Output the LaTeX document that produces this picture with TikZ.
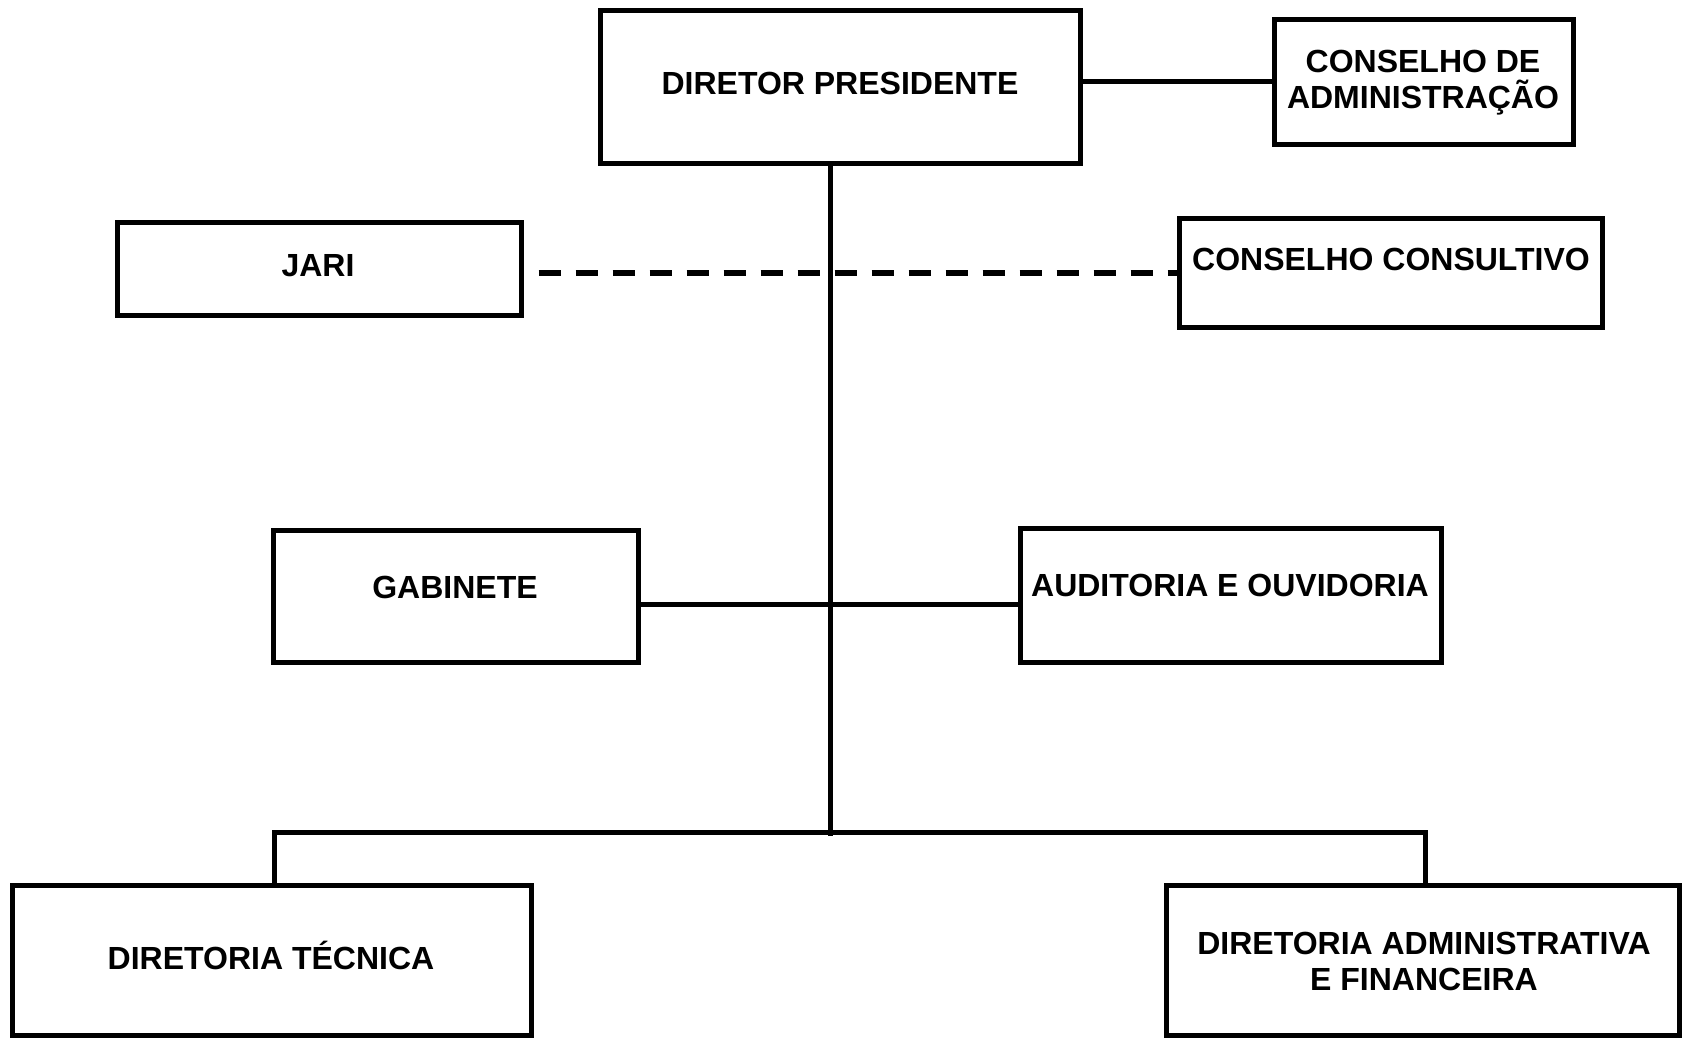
\documentclass[tikz,border=0pt]{standalone}
\usepackage{fontspec}
\setmainfont{Liberation Sans}
\usetikzlibrary{calc}
\begin{document}
\begin{tikzpicture}[x=1pt,y=-1pt,
  box/.style={draw=black, line width=5pt, fill=white, inner sep=0pt},
  lbl/.style={font=\fontsize{32}{36}\selectfont\bfseries, inner sep=0pt, anchor=base, align=center},
  conn/.style={draw=black, line width=5pt},
  dashconn/.style={draw=black, line width=6pt, dash pattern=on 22pt off 15pt, dash phase=22pt}]
\useasboundingbox (0,0) rectangle (1682,1037);
\fill[white] (0,0) rectangle (1682,1037);
% boxes
\node[box, minimum width=480pt, minimum height=153pt] (dp) at (840,86.5) {};
\node[box, minimum width=299pt, minimum height=125pt] (ca) at (1423.5,81.5) {};
\node[box, minimum width=404pt, minimum height=93pt] (jari) at (319,268.5) {};
\node[box, minimum width=423pt, minimum height=109pt] (cc) at (1390.5,272.5) {};
\node[box, minimum width=365pt, minimum height=132pt] (gab) at (455.5,596) {};
\node[box, minimum width=421pt, minimum height=134pt] (aud) at (1230.5,595) {};
\node[box, minimum width=519pt, minimum height=150pt] (dt) at (271.5,960) {};
\node[box, minimum width=513pt, minimum height=150pt] (daf) at (1422.5,960) {};
% labels
\node[lbl] (dp-t) at (840,94) {DIRETOR PRESIDENTE};
\node[lbl] (ca-t) at (1423,108) {CONSELHO DE\\ADMINISTRAÇÃO};
\node[lbl] (jari-t) at (318,276) {JARI};
\node[lbl] (cc-t) at (1391,270) {CONSELHO CONSULTIVO};
\node[lbl] (gab-t) at (455,598) {GABINETE};
\node[lbl] (aud-t) at (1230,596) {AUDITORIA E OUVIDORIA};
\node[lbl] (dt-t) at (271,969) {DIRETORIA TÉCNICA};
\node[lbl] (daf-t) at (1424,990) {DIRETORIA ADMINISTRATIVA\\E FINANCEIRA};
% connector coordinates
\coordinate (trunk) at (830,832);
\coordinate (trunkend) at (830,836);
\coordinate (dashy) at (830,273);
\coordinate (midy) at (830,604);
\coordinate (bl) at (274,832);
\coordinate (br) at (1425,832);
% connectors
\draw[conn] (ca.west) -- (ca.west -| dp.east);
\draw[conn] (dp.south -| trunk) -- (trunkend);
\draw[dashconn] (jari.east |- dashy) -- (cc.west |- dashy);
\draw[conn] (gab.east |- midy) -- (aud.west |- midy);
\draw[conn, line join=miter] (dt.north -| bl) -- (bl) -- (br) -- (daf.north -| br);
\end{tikzpicture}
\end{document}
